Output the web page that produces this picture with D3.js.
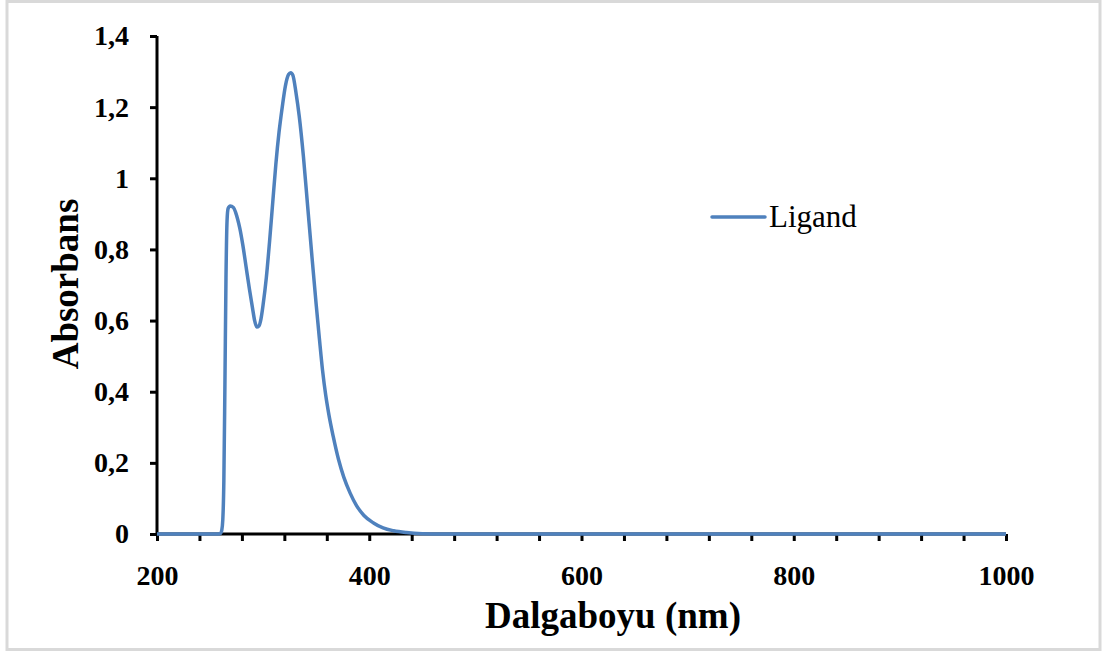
<!DOCTYPE html>
<html>
<head>
<meta charset="utf-8">
<script src="https://cdn.jsdelivr.net/npm/d3@7"></script>
<style>
  html, body { margin: 0; padding: 0; background: #fff; }
  svg { display: block; }
</style>
</head>
<body>
<svg id="chart" width="1103" height="657"></svg>
<script>
// ---- data ----
const wavelength = [200, 250, 258, 260, 261, 262, 263, 264, 265, 266, 267, 269, 272, 274, 276, 278, 281, 284, 287, 290, 292, 294, 296, 298, 300, 303, 306, 309, 312, 315, 318, 321, 324, 326, 328, 331, 334, 338, 342, 346, 350, 353, 356, 359, 362, 366, 371, 376, 382, 388, 395, 404, 413, 423, 435, 450, 470, 600, 800, 1000];
const absorbance = [0, 0, 0, 0.002, 0.01, 0.04, 0.15, 0.42, 0.72, 0.88, 0.915, 0.922, 0.918, 0.905, 0.885, 0.86, 0.81, 0.75, 0.69, 0.635, 0.6, 0.582, 0.585, 0.605, 0.645, 0.72, 0.82, 0.93, 1.04, 1.13, 1.2, 1.26, 1.292, 1.297, 1.29, 1.24, 1.175, 1.06, 0.92, 0.78, 0.645, 0.55, 0.46, 0.39, 0.335, 0.275, 0.21, 0.16, 0.115, 0.08, 0.052, 0.031, 0.017, 0.009, 0.004, 0.001, 0, 0, 0, 0];
const seriesName = "Ligand";
const xTicks = [200, 400, 600, 800, 1000];
const xMinorTicks = d3.range(200, 1001, 40);
const yTicks = [0, 0.2, 0.4, 0.6, 0.8, 1, 1.2, 1.4];
const yTickLabels = ["0", "0,2", "0,4", "0,6", "0,8", "1", "1,2", "1,4"];
const xTitle = "Dalgaboyu (nm)";
const yTitle = "Absorbans";

// ---- layout ----
const svg = d3.select("#chart");
const pL = 157, pR = 1006, pT = 36, pB = 534;
const x = d3.scaleLinear().domain([200, 1000]).range([pL, pR]);
const y = d3.scaleLinear().domain([0, 1.4]).range([pB, pT]);
const serif = "'Liberation Serif', 'Times New Roman', serif";
const blue = "#4f81bd";

// frame
svg.append("rect")
  .attr("x", 7).attr("y", 1.5).attr("width", 1093).attr("height", 648)
  .attr("fill", "#fff").attr("stroke", "#d9d9d9").attr("stroke-width", 3);

// series line
const line = d3.line()
  .x((d, i) => x(wavelength[i]))
  .y(d => y(d))
  .curve(d3.curveMonotoneX);

// x axis
const xAxisG = svg.append("g").attr("transform", `translate(0,${pB})`);
xAxisG.call(d3.axisBottom(x).tickValues(xMinorTicks).tickSize(7).tickFormat(""));
xAxisG.select(".domain").attr("stroke", "#000").attr("stroke-width", 3).attr("d", `M${pL},0H${pR}`);
xAxisG.selectAll(".tick line").attr("stroke", "#000").attr("stroke-width", 3);

const xLab = svg.append("g").attr("transform", `translate(0,${pB})`);
xLab.call(d3.axisBottom(x).tickValues(xTicks).tickSize(0).tickPadding(31).tickFormat(d3.format("d")));
xLab.select(".domain").remove();
xLab.selectAll("text")
  .attr("font-family", serif).attr("font-size", 28).attr("font-weight", "bold").attr("fill", "#000");

// y axis
const yAxisG = svg.append("g").attr("transform", `translate(${pL},0)`);
yAxisG.call(d3.axisLeft(y).tickValues(yTicks).tickSize(7).tickPadding(21)
  .tickFormat((d, i) => yTickLabels[i]));
yAxisG.select(".domain").attr("stroke", "#000").attr("stroke-width", 3).attr("d", `M0,${pB}V${pT}`);
yAxisG.selectAll(".tick line").attr("stroke", "#000").attr("stroke-width", 3);
yAxisG.selectAll("text")
  .attr("font-family", serif).attr("font-size", 28).attr("font-weight", "bold").attr("fill", "#000");

// line drawn over axes
svg.append("path")
  .datum(absorbance)
  .attr("d", line)
  .attr("fill", "none")
  .attr("stroke", blue)
  .attr("stroke-width", 3.5)
  .attr("stroke-linejoin", "round");

// axis titles
svg.append("text")
  .attr("x", 613).attr("y", 628)
  .attr("text-anchor", "middle")
  .attr("font-family", serif).attr("font-size", 37).attr("font-weight", "bold")
  .text(xTitle);

svg.append("text")
  .attr("transform", "translate(78,284) rotate(-90)")
  .attr("text-anchor", "middle")
  .attr("font-family", serif).attr("font-size", 37).attr("font-weight", "bold")
  .text(yTitle);

// legend
svg.append("line")
  .attr("x1", 712).attr("x2", 765).attr("y1", 217).attr("y2", 217)
  .attr("stroke", blue).attr("stroke-width", 3.5).attr("stroke-linecap", "round");
svg.append("text")
  .attr("x", 769).attr("y", 227)
  .attr("font-family", serif).attr("font-size", 31)
  .text(seriesName);
</script>
</body>
</html>
